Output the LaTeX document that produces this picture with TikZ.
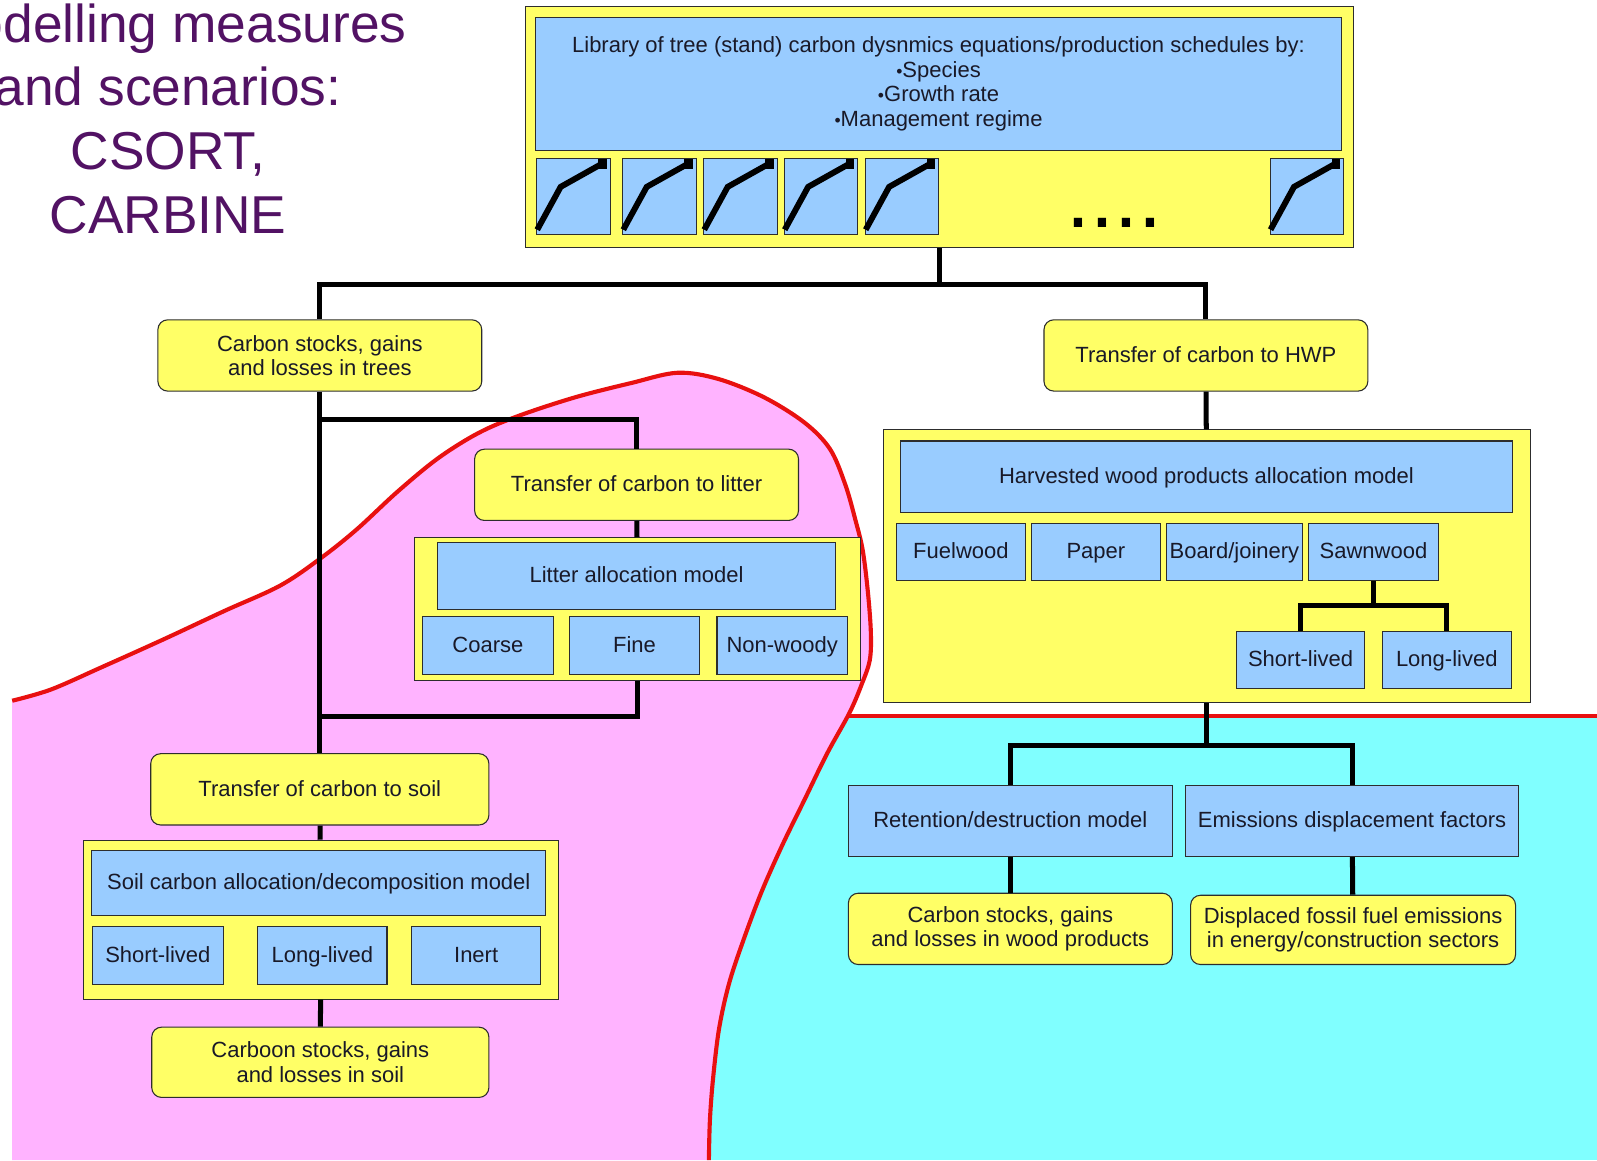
\documentclass[tikz,border=0pt]{standalone}
\usepackage{fontspec}
\setmainfont{Liberation Sans}
\usepackage{xcolor}

\definecolor{boxyellow}{RGB}{255,255,102}
\definecolor{boxblue}{RGB}{153,204,255}
\definecolor{boxline}{RGB}{45,45,45}
\definecolor{boxtext}{RGB}{25,25,40}
\definecolor{regionpink}{RGB}{255,179,255}
\definecolor{regioncyan}{RGB}{128,255,255}
\definecolor{curvered}{RGB}{232,16,16}
\definecolor{titlepurple}{RGB}{82,18,100}

\newcommand{\dotitem}{{\scalebox{0.8}{\textbullet}}}

\begin{document}
\begin{tikzpicture}[x=0.02cm, y=-0.02cm]
\tikzstyle{base}=[draw=boxline, line width=0.6pt, inner sep=0pt, align=center, text=boxtext, font=\fontsize{12.3}{13.7}\selectfont]
\tikzstyle{oneline}=[text height=9.6pt, text depth=2pt]
\tikzstyle{ybox}=[base, fill=boxyellow]
\tikzstyle{yround}=[ybox, rounded corners=5.5pt]
\tikzstyle{bbox}=[base, oneline, fill=boxblue]
\tikzstyle{conn}=[line width=2.8pt]
\tikzstyle{redline}=[curvered, line width=2.3pt]
\tikzset{wh/.style 2 args={minimum width=#1*0.02cm, minimum height=#2*0.02cm}}
\clip (0,0) rectangle (1568,1139);

% regions
\fill[regioncyan] (680,703) rectangle (1568,1139);
\fill[regionpink] (12,1139) -- plot[smooth, tension=.55] coordinates {(12,688) (50,677) (100,655) (160,628) (220,600) (275,575) (315,548) (350,520) (390,483) (430,450) (470,425) (510,408) (565,390) (620,376) (665,366) (705,372) (750,390) (790,415) (815,441) (830,476) (840,511) (847,540) (852,580) (855,620) (854,648) (846,672) (834,700) (812,740) (790,785) (768,830) (748,875) (731,920) (716,965) (706,1010) (700,1060) (697,1100) (696,1139)} -- cycle;
\draw[redline] plot[smooth, tension=.55] coordinates {(12,688) (50,677) (100,655) (160,628) (220,600) (275,575) (315,548) (350,520) (390,483) (430,450) (470,425) (510,408) (565,390) (620,376) (665,366) (705,372) (750,390) (790,415) (815,441) (830,476) (840,511) (847,540) (852,580) (855,620) (854,648) (846,672) (834,700) (812,740) (790,785) (768,830) (748,875) (731,920) (716,965) (706,1010) (700,1060) (697,1100) (696,1139)};
\coordinate (split) at (834,703);
\coordinate (edge) at (1568,703);
\draw[redline] (split) -- (edge);

% title
\node[font=\fontsize{29.8}{35.6}\selectfont, text=titlepurple, align=center, anchor=base] (title) at (165,229) {Modelling measures\\and scenarios:\\CSORT,\\CARBINE};

% library of growth curves
\node[ybox, wh={813}{237}] (lib) at (922.5,124.5) {};
\node[base, fill=boxblue, wh={791}{131}] (libtext) at (921.5,82.5) {Library of tree (stand) carbon dysnmics equations/production schedules by:\\\dotitem Species\\\dotitem Growth rate\\\dotitem Management regime};
\foreach \n/\x in {1/563, 2/647.5, 3/727, 4/806, 5/885.5, 6/1283} {
  \node[bbox, wh={72}{74}] (g\n) at (\x,193) {};
  \draw[line width=3.3pt] ([shift={(1,-5)}]g\n.south west) -- ([shift={(24,28)}]g\n.north west) -- ([shift={(-8,5)}]g\n.north east);
  \fill ([shift={(-12,1)}]g\n.north east) rectangle ([shift={(-4,10)}]g\n.north east);
}
\node[font=\fontsize{48}{48}\selectfont] (dots) at (1094,219) {....};

% trees and litter
\node[yround, wh={318}{70}] (trees) at (314,349) {Carbon stocks, gains\\and losses in trees};
\node[yround, oneline, wh={318}{70}] (hwp) at (1184,349) {Transfer of carbon to HWP};
\node[yround, oneline, wh={318}{70}] (tlitter) at (625,476) {Transfer of carbon to litter};
\node[ybox, wh={438}{140}] (litbox) at (626,598) {};
\node[bbox, wh={390}{65}] (litmodel) at (625,565.5) {Litter allocation model};
\node[bbox, wh={128}{57}] (coarse) at (479,633.5) {Coarse};
\node[bbox, wh={128}{57}] (fine) at (623,633.5) {Fine};
\node[bbox, wh={128}{57}] (nonwoody) at (768,633.5) {Non-woody};

% soil
\node[yround, oneline, wh={332}{70}] (tsoil) at (314,775) {Transfer of carbon to soil};
\node[ybox, wh={466}{156}] (soilbox) at (315,903) {};
\node[bbox, wh={446}{64}] (soilmodel) at (313,867) {Soil carbon allocation/decomposition model};
\node[bbox, wh={128}{57}] (sshort) at (155,938.5) {Short-lived};
\node[bbox, wh={127}{57}] (slong) at (316.5,938.5) {Long-lived};
\node[bbox, wh={127}{57}] (inert) at (467.5,938.5) {Inert};
\node[yround, wh={331}{69}] (sstock) at (314.5,1043) {Carboon stocks, gains\\and losses in soil};

% harvested wood products
\node[ybox, wh={636}{268}] (hwpbox) at (1185,556) {};
\node[bbox, wh={601}{70}] (hwpmodel) at (1184.5,468) {Harvested wood products allocation model};
\node[bbox, wh={127}{56}] (fuel) at (943.5,542) {Fuelwood};
\node[bbox, wh={126}{56}] (paper) at (1076,542) {Paper};
\node[bbox, wh={134}{56}] (board) at (1212,542) {Board/joinery};
\node[bbox, wh={127}{56}] (sawn) at (1348.5,542) {Sawnwood};
\node[bbox, wh={126}{56}] (hshort) at (1277,648) {Short-lived};
\node[bbox, wh={127}{56}] (hlong) at (1420.5,648) {Long-lived};
\node[bbox, wh={318}{70}] (ret) at (992,806) {Retention/destruction model};
\node[bbox, wh={327}{70}] (emis) at (1327.5,806) {Emissions displacement factors};
\node[yround, wh={318}{70}] (wstock) at (992,912) {Carbon stocks, gains\\and losses in wood products};
\node[yround, wh={319}{68}] (fossil) at (1328.5,913) {Displaced fossil fuel emissions\\in energy/construction sectors};

% connectors
\coordinate (trunk) at (314,703);
\draw[conn] (lib.south) -- ++(0,36) -| (trees.north);
\draw[conn] (lib.south) -- ++(0,36) -| (hwp.north);
\draw[conn] (trees.south) -- (tsoil.north);
\draw[conn] (trees.south) ++(0,27) -| (tlitter.north);
\draw[conn] (litbox.south) |- (trunk);
\draw[conn] (sawn.south) -- ++(0,24) -| (hshort.north);
\draw[conn] (sawn.south) -- ++(0,24) -| (hlong.north);
\draw[conn] (hwpbox.south) -- ++(0,41) -| (ret.north);
\draw[conn] (hwpbox.south) -- ++(0,41) -| (emis.north);
\path[conn]
(tlitter) edge (litbox)
(tsoil) edge (soilbox)
(soilbox) edge (sstock)
(hwp) edge (hwpbox)
(ret) edge (wstock)
(emis) edge (fossil);

\end{tikzpicture}
\end{document}
